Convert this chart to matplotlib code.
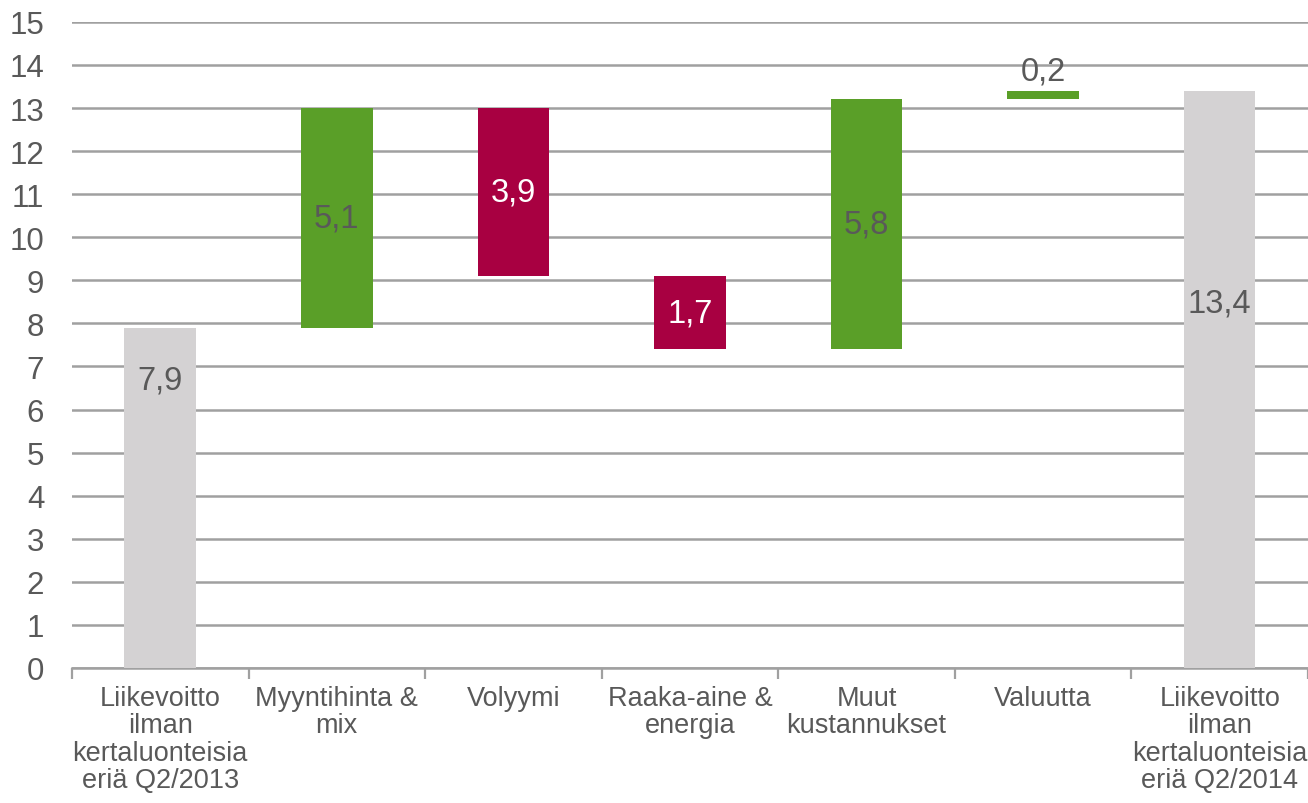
import matplotlib
matplotlib.use("Agg")
import matplotlib.pyplot as plt

categories = ["Liikevoitto\nilman\nkertaluonteisia\neriä Q2/2013", "Myyntihinta &\nmix", "Volyymi",
              "Raaka-aine &\nenergia", "Muut\nkustannukset", "Valuutta",
              "Liikevoitto\nilman\nkertaluonteisia\neriä Q2/2014"]
changes = [7.9, 5.1, -3.9, -1.7, 5.8, 0.2, 13.4]
kinds = ["total", "delta", "delta", "delta", "delta", "delta", "total"]
labels = ["7,9", "5,1", "3,9", "1,7", "5,8", "0,2", "13,4"]

GREY = "#D4D2D3"
GREEN = "#5A9F28"
RED = "#A80041"
TXT = "#595959"

plt.rcParams["font.family"] = ["Liberation Sans", "DejaVu Sans"]
fig = plt.figure(figsize=(13.08, 8.04), dpi=100)
ax = fig.add_axes([0.055, 0.168, 0.945, 0.8035])

x = list(range(len(categories)))
running = 0.0
for i, (c, k, lab) in enumerate(zip(changes, kinds, labels)):
    if k == "total":
        bottom, height, col = 0.0, c, GREY
        running = c
        ly = c * (0.845 if i == 0 else 0.632)
        tcol = TXT
        va = "center"
    else:
        start = running
        running = running + c
        bottom = min(start, running)
        height = abs(c)
        col = GREEN if c > 0 else RED
        tcol = TXT if c > 0 else "white"
        if height < 0.5:
            ly = bottom + height + 0.1
            va = "bottom"
            tcol = TXT
        else:
            ly = bottom + height / 2
            va = "center"
    ax.bar(i, height, bottom=bottom, width=0.405, color=col, zorder=3)
    ax.text(i, ly, lab, ha="center", va=va, fontsize=23.5, color=tcol, zorder=4)

ax.set_xlim(-0.5, len(categories) - 0.5)
ax.set_ylim(0, 15)
ax.set_yticks(range(0, 16))
ax.yaxis.grid(True, color="#A0A0A0", linewidth=1.8, zorder=0)
ax.set_axisbelow(True)
for s in ["left", "right", "top"]:
    ax.spines[s].set_visible(False)
ax.spines["bottom"].set_color("#A0A0A0")
ax.spines["bottom"].set_linewidth(1.8)
ax.tick_params(axis="y", length=0, labelsize=22.5, labelcolor=TXT, pad=20)
ax.set_xticks(x)
ax.set_xticklabels(categories, fontsize=19.5, color=TXT, linespacing=1.08)
ax.tick_params(axis="x", length=0, pad=12)
ax.set_xticks([i - 0.5 for i in range(len(categories) + 1)], minor=True)
ax.tick_params(axis="x", which="minor", length=8, width=1.6, color="#A0A0A0", direction="out")

fig.savefig("out.png", dpi=100)
